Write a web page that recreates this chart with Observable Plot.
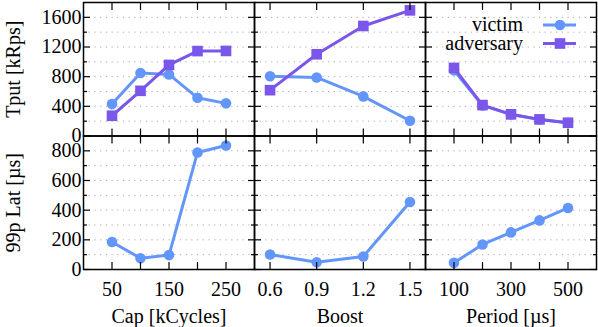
<!DOCTYPE html>
<html><head><meta charset="utf-8">
<script src="https://cdn.jsdelivr.net/npm/d3@7"></script>
<script src="https://cdn.jsdelivr.net/npm/@observablehq/plot@0.6"></script>
<style>
body{margin:0;background:#fff;}
#chart{position:relative;width:598px;height:327px;font-family:"Liberation Serif",serif;}
#chart svg{position:absolute;left:0;top:0;}
#chart svg text{font-family:"Liberation Serif",serif;font-variant-numeric:normal;}
</style></head><body><div id="chart"></div>
<script>
// ---- data ----
const capX = [50, 100, 150, 200, 250];
const capVictimTput = [430, 850, 830, 515, 440];
const capAdvTput = [273, 609, 958, 1145, 1147];
const capVictimLat = [185, 76, 97, 789, 836];

const boostX = [0.6, 0.9, 1.2, 1.5];
const boostVictimTput = [806, 789, 534, 206];
const boostAdvTput = [618, 1102, 1483, 1694];
const boostVictimLat = [101, 49, 88, 455];

const periodX = [100, 200, 300, 400, 500];
const periodVictimTput = [885, 412, 290, 222, 178];
const periodAdvTput = [918, 417, 292, 224, 179];
const periodVictimLat = [45, 169, 250, 331, 415];

const seriesNames = ["victim", "adversary"];
const xTitles = ["Cap [kCycles]", "Boost", "Period [µs]"];
const yTitles = ["Tput [kRps]", "99p Lat [µs]"];
const capTicks = [50, 100, 150, 200, 250], capLabels = [50, 150, 250];
const boostTicks = [0.6, 0.9, 1.2, 1.5], boostLabels = [0.6, 0.9, 1.2, 1.5];
const periodTicks = [100, 200, 300, 400, 500], periodLabels = [100, 300, 500];
const tputTicks = [0, 200, 400, 600, 800, 1000, 1200, 1400, 1600], tputLabels = [0, 400, 800, 1200, 1600];
const latTicks = [0, 100, 200, 300, 400, 500, 600, 700, 800], latLabels = [0, 200, 400, 600, 800];

// ---- layout ----
const W = 598, H = 327;
const colEdges = [83, 254, 425, 596];
const rowEdges = [2, 135.5, 269];
const victimColor = "#6396fb", advColor = "#7a56ea";
const font = "'Liberation Serif', serif";

const cols = [
  {x: capX, domain: [0, 300], ticks: capTicks, labels: capLabels, title: xTitles[0],
   tput: [capVictimTput, capAdvTput], lat: capVictimLat},
  {x: boostX, domain: [0.5, 1.6], ticks: boostTicks, labels: boostLabels, title: xTitles[1],
   tput: [boostVictimTput, boostAdvTput], lat: boostVictimLat},
  {x: periodX, domain: [0, 600], ticks: periodTicks, labels: periodLabels, title: xTitles[2],
   tput: [periodVictimTput, periodAdvTput], lat: periodVictimLat}
];
const rows = [
  {domain: [0, 1800], ticks: tputTicks, labels: tputLabels, title: yTitles[0]},
  {domain: [0, 900], ticks: latTicks, labels: latLabels, title: yTitles[1]}
];

const chart = document.getElementById("chart");

rows.forEach((row, r) => {
  cols.forEach((col, c) => {
    const series = r === 0
      ? [{name: seriesNames[0], vals: col.tput[0], color: victimColor, symbol: "circle", rr: 5.3},
         {name: seriesNames[1], vals: col.tput[1], color: advColor, symbol: "square", rr: 6}]
      : [{name: seriesNames[0], vals: col.lat, color: victimColor, symbol: "circle", rr: 5.3}];
    const marks = [
      Plot.gridY(row.ticks.filter(t => t !== 0), {stroke: "#aaa", strokeOpacity: 1, strokeDasharray: "1.2,4.5", strokeWidth: 1})
    ];
    series.forEach(s => {
      const data = col.x.map((x, i) => ({x, y: s.vals[i]}));
      marks.push(Plot.line(data, {x: "x", y: "y", stroke: s.color, strokeWidth: 3}));
      marks.push(Plot.dot(data, {x: "x", y: "y", fill: s.color, symbol: s.symbol, r: s.rr}));
    });
    const majorY = row.labels, minorY = row.ticks.filter(t => !row.labels.includes(t));
    marks.push(
      Plot.frame({stroke: "#000", strokeWidth: 1.5}),
      Plot.axisY(majorY, {anchor: "left", tickSize: -7, text: null, label: null, strokeWidth: 1.2}),
      Plot.axisY(minorY, {anchor: "left", tickSize: -4, text: null, label: null, strokeWidth: 1.2}),
      Plot.axisY(majorY, {anchor: "right", tickSize: -7, text: null, label: null, strokeWidth: 1.2}),
      Plot.axisY(minorY, {anchor: "right", tickSize: -4, text: null, label: null, strokeWidth: 1.2}),
      Plot.axisX(col.ticks, {anchor: "bottom", tickSize: -7, text: null, label: null, strokeWidth: 1.2}),
      Plot.axisX(col.ticks, {anchor: "top", tickSize: -7, text: null, label: null, strokeWidth: 1.2})
    );
    if (c === 0) {
      marks.push(Plot.axisY(row.labels, {anchor: "left", tickSize: 0, tickPadding: 2, label: row.title,
        labelAnchor: "center", labelArrow: "none", labelOffset: 78, fontSize: 20, fontFamily: font,
        tickFormat: d => String(d)}));
    }
    if (r === 1) {
      marks.push(Plot.axisX(col.labels, {anchor: "bottom", tickSize: 0, tickPadding: 12, label: col.title,
        labelAnchor: "center", labelArrow: "none", labelOffset: 53, fontSize: 20, fontFamily: font,
        tickFormat: d => String(d)}));
    }
    const svg = Plot.plot({
      width: W, height: H,
      marginLeft: colEdges[c], marginRight: W - colEdges[c + 1],
      marginTop: rowEdges[r], marginBottom: H - rowEdges[r + 1],
      x: {domain: col.domain},
      y: {domain: row.domain},
      style: {background: "transparent", overflow: "visible", fontFamily: font, fontSize: "20px", color: "#000"},
      marks
    });
    chart.appendChild(svg);
  });
});

// legend (top-right panel)
const leg = d3.create("svg").attr("width", W).attr("height", H)
  .style("overflow", "visible").style("font-family", font).style("font-size", "20px");
const legItems = [
  {name: seriesNames[0], color: victimColor, sym: d3.symbolCircle, size: Math.PI * 5.3 * 5.3, y: 25},
  {name: seriesNames[1], color: advColor, sym: d3.symbolSquare, size: 36 * Math.PI, y: 43.5}
];
legItems.forEach(it => {
  const g = leg.append("g");
  g.append("text").attr("x", 523).attr("y", it.y).attr("dy", "0.32em").attr("text-anchor", "end").text(it.name);
  g.append("line").attr("x1", 543).attr("x2", 576).attr("y1", it.y).attr("y2", it.y)
    .attr("stroke", it.color).attr("stroke-width", 3);
  g.append("path").attr("d", d3.symbol(it.sym, it.size)()).attr("transform", `translate(560,${it.y})`).attr("fill", it.color);
});
chart.appendChild(leg.node());
</script>
</body></html>
